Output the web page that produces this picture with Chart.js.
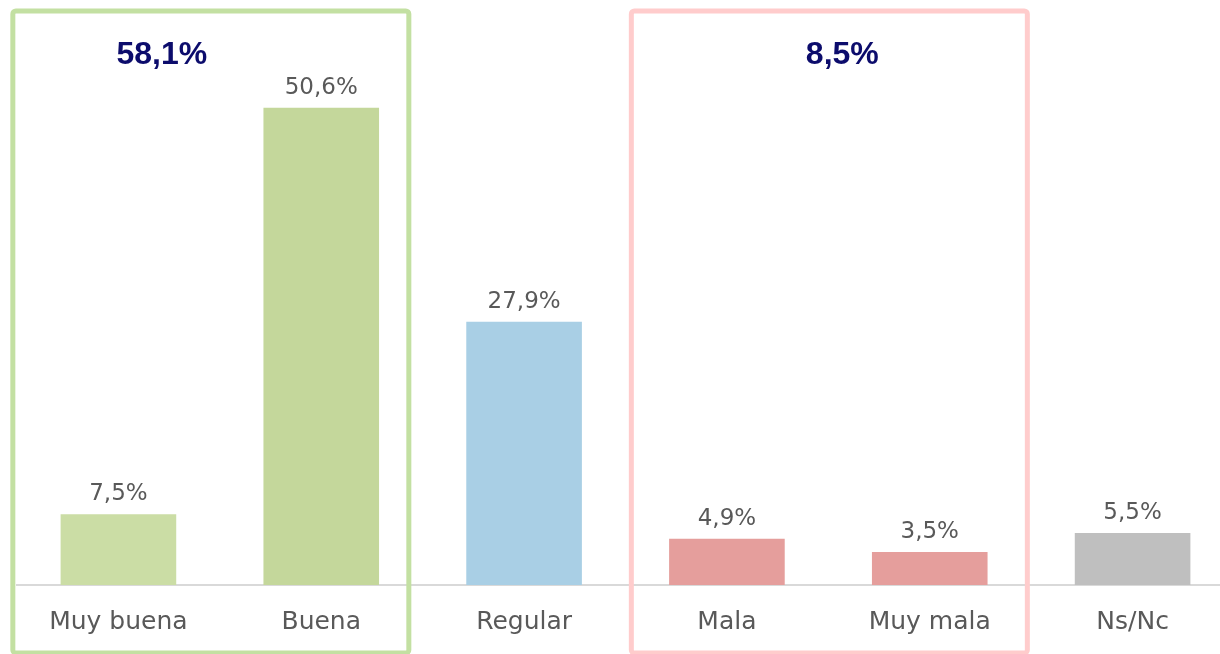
<!DOCTYPE html>
<html>
<head>
<meta charset="utf-8">
<script src="https://cdn.jsdelivr.net/npm/chart.js@4.4.1/dist/chart.umd.min.js"></script>
<style>
  html, body { margin: 0; padding: 0; background: #fff; overflow: hidden; }
  #wrap { position: relative; width: 1234px; height: 654px; }
</style>
</head>
<body>
<div id="wrap"><canvas id="chart"></canvas></div>
<script>
const categories = ["Muy buena", "Buena", "Regular", "Mala", "Muy mala", "Ns/Nc"];
const values = [7.5, 50.6, 27.9, 4.9, 3.5, 5.5];
const barColors = ["#cbdda5", "#c4d79b", "#a9cfe5", "#e59e9c", "#e59e9c", "#bfbfbf"];

// grouped boxes: first/last category index and the total shown on top
const groupFirst = [0, 3];
const groupLast = [1, 4];
const groupTotals = [58.1, 8.5];
const groupColors = ["#c3e0a2", "#ffcccc"];

const fmt = (v) => v.toFixed(1).replace(".", ",") + "%";

const valueLabels = {
  id: "valueLabels",
  afterDatasetsDraw(chart) {
    const ctx = chart.ctx;
    const meta = chart.getDatasetMeta(0);
    ctx.save();
    ctx.font = "23px 'DejaVu Sans'";
    ctx.fillStyle = "#595959";
    ctx.textAlign = "center";
    ctx.textBaseline = "alphabetic";
    meta.data.forEach((bar, i) => {
      ctx.fillText(fmt(values[i]), bar.x, bar.y - 14);
    });
    ctx.restore();
  },
};

const groupBoxes = {
  id: "groupBoxes",
  afterDraw(chart, args, opts) {
    const ctx = chart.ctx;
    const x = chart.scales.x;
    ctx.save();
    groupFirst.forEach((first, g) => {
      const mid = (x.getPixelForValue(first) + x.getPixelForValue(groupLast[g])) / 2 + opts.shift[g];
      ctx.strokeStyle = groupColors[g];
      ctx.lineWidth = 5;
      ctx.beginPath();
      ctx.roundRect(mid - opts.halfWidth, opts.top, opts.halfWidth * 2, opts.bottom - opts.top, 3);
      ctx.stroke();

      ctx.font = "bold 32px 'Liberation Sans'";
      ctx.fillStyle = "#0c0c6c";
      ctx.textAlign = "center";
      ctx.textBaseline = "middle";
      ctx.fillText(fmt(groupTotals[g]), mid + opts.labelDx[g], 55);
    });
    ctx.restore();
  },
};

new Chart(document.getElementById("chart"), {
  type: "bar",
  data: {
    labels: categories,
    datasets: [
      {
        data: values,
        backgroundColor: barColors,
        borderWidth: 0,
        barPercentage: 1,
        categoryPercentage: 0.57,
      },
    ],
  },
  options: {
    responsive: true,
    maintainAspectRatio: false,
    animation: false,
    layout: {
      padding: { top: 19, left: 17, right: 0, bottom: -5 },
    },
    plugins: {
      legend: { display: false },
      tooltip: { enabled: false },
      groupBoxes: {
        halfWidth: 198,
        top: 11,
        bottom: 653,
        shift: [-9, 1],
        labelDx: [-49, 13],
      },
    },
    scales: {
      y: {
        display: false,
        min: 0,
        max: 60,
      },
      x: {
        grid: { display: false, drawTicks: false },
        border: { display: true, color: "#d9d9d9", width: 2 },
        ticks: {
          padding: 22,
          color: "#595959",
          font: { family: "'DejaVu Sans'", size: 25 },
        },
      },
    },
  },
  plugins: [valueLabels, groupBoxes],
});
</script>
</body>
</html>
